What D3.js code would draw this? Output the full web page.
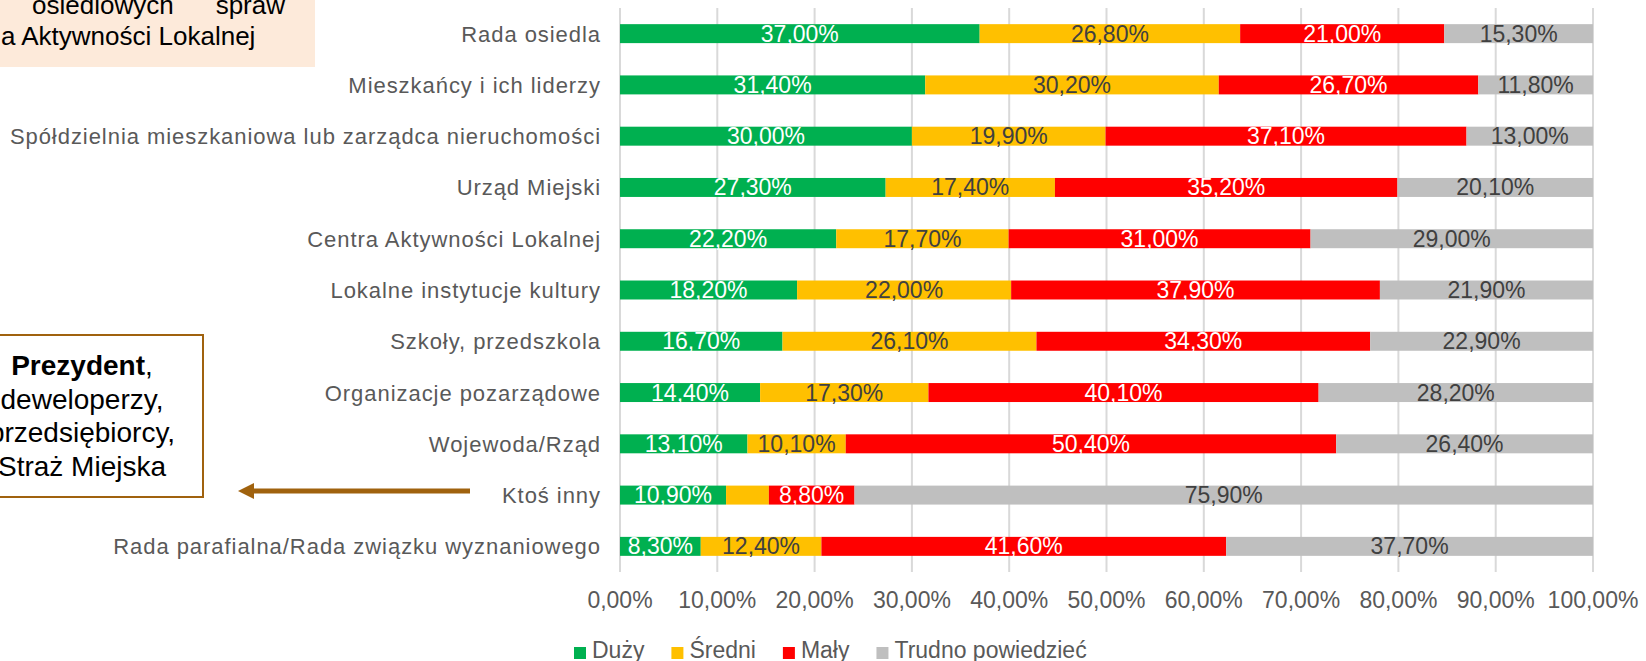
<!DOCTYPE html>
<html><head><meta charset="utf-8">
<script src="https://cdn.jsdelivr.net/npm/d3@7"></script>
<style>
html,body{margin:0;padding:0;background:#fff;}
svg{display:block;font-family:"Liberation Sans",Arial,sans-serif;}
</style></head>
<body>
<svg id="chart" width="1646" height="661"></svg>
<script>
const categories = ["Rada osiedla","Mieszkańcy i ich liderzy","Spółdzielnia mieszkaniowa lub zarządca nieruchomości","Urząd Miejski","Centra Aktywności Lokalnej","Lokalne instytucje kultury","Szkoły, przedszkola","Organizacje pozarządowe","Wojewoda/Rząd","Ktoś inny","Rada parafialna/Rada związku wyznaniowego"];
const duzy   = [37.0,31.4,30.0,27.3,22.2,18.2,16.7,14.4,13.1,10.9,8.3];
const sredni = [26.8,30.2,19.9,17.4,17.7,22.0,26.1,17.3,10.1,4.4,12.4];
const maly   = [21.0,26.7,37.1,35.2,31.0,37.9,34.3,40.1,50.4,8.8,41.6];
const trudno = [15.3,11.8,13.0,20.1,29.0,21.9,22.9,28.2,26.4,75.9,37.7];
const seriesNames = ["Duży","Średni","Mały","Trudno powiedzieć"];
const seriesColors = ["#00B050","#FFC000","#FF0000","#BFBFBF"];
const labelColors = ["#FFFFFF","#404040","#FFFFFF","#404040"];
const tickValues = [0,0.1,0.2,0.3,0.4,0.5,0.6,0.7,0.8,0.9,1.0];

const seriesVals = [duzy, sredni, maly, trudno];
const svg = d3.select("#chart");

const x = d3.scaleLinear().domain([0,1]).range([620,1593]);
const y = d3.scaleBand().domain(categories).range([8,572]).paddingInner(0.63).paddingOuter(0.315);

// top-left annotation box (partially visible)
svg.append("rect").attr("x",-20).attr("y",-40).attr("width",335).attr("height",107).attr("fill","#FDEADA");
svg.append("text").attr("x",32).attr("y",14).attr("font-size",26).attr("fill","#000").text("osiedlowych");
svg.append("text").attr("x",285).attr("y",14).attr("text-anchor","end").attr("font-size",26).attr("fill","#000").text("spraw");
svg.append("text").attr("x",1).attr("y",45).attr("font-size",26).attr("fill","#000").text("a Aktywności Lokalnej");

// gridlines
svg.append("g").selectAll("line").data(tickValues).join("line")
  .attr("x1",d=>x(d)).attr("x2",d=>x(d)).attr("y1",8).attr("y2",572)
  .attr("stroke","#D9D9D9").attr("stroke-width",2);

// x tick labels
const fmt = v => d3.format(".2f")(v).replace(".",",") + "%";
svg.append("g").selectAll("text").data(tickValues).join("text")
  .attr("x",d=>x(d)).attr("y",608).attr("text-anchor","middle")
  .attr("font-size",23).attr("fill","#595959").text(d=>fmt(d*100));

// stack
const rows = categories.map((c,i)=>{
  const vals = seriesVals.map(s=>s[i]);
  const tot = d3.sum(vals);
  let acc = 0;
  return vals.map((v,k)=>{ const seg={cat:c,k,v,x0:acc/tot,x1:(acc+v)/tot}; acc+=v; return seg; });
});
const segs = rows.flat();

svg.append("g").selectAll("rect").data(segs).join("rect")
  .attr("x",d=>x(d.x0)).attr("width",d=>x(d.x1)-x(d.x0))
  .attr("y",d=>y(d.cat)).attr("height",y.bandwidth())
  .attr("fill",d=>seriesColors[d.k]);

const lbl = svg.append("g").selectAll("text").data(segs).join("text")
  .attr("x",d=>(x(d.x0)+x(d.x1))/2).attr("y",d=>y(d.cat)+y.bandwidth()/2+8)
  .attr("text-anchor","middle").attr("font-size",23)
  .attr("fill",d=>labelColors[d.k]).text(d=>fmt(d.v));
lbl.each(function(d){ if(this.getComputedTextLength() > x(d.x1)-x(d.x0)) d3.select(this).remove(); });

// category labels
svg.append("g").selectAll("text").data(categories).join("text")
  .attr("x",601).attr("y",d=>y(d)+y.bandwidth()/2+8)
  .attr("text-anchor","end").attr("font-size",22).attr("letter-spacing","0.95px")
  .attr("fill","#595959").text(d=>d);

// left annotation box
svg.append("rect").attr("x",-40).attr("y",335).attr("width",243).attr("height",162)
  .attr("fill","#fff").attr("stroke","#A0620E").attr("stroke-width",2);
const t1 = svg.append("text").attr("x",82).attr("y",375).attr("text-anchor","middle").attr("font-size",28).attr("fill","#000");
t1.append("tspan").attr("font-weight","bold").text("Prezydent");
t1.append("tspan").text(",");
["deweloperzy,","przedsiębiorcy,","Straż Miejska"].forEach((s,i)=>{
  svg.append("text").attr("x",82).attr("y",408.5+i*33.5).attr("text-anchor","middle").attr("font-size",28).attr("fill","#000").text(s);
});

// arrow
svg.append("line").attr("x1",470).attr("y1",491).attr("x2",252).attr("y2",491).attr("stroke","#A0620E").attr("stroke-width",5);
svg.append("path").attr("d","M238,491 L254,483 L254,499 Z").attr("fill","#A0620E");

// legend
const lg = svg.append("g");
let lx = 574;
seriesNames.forEach((n,i)=>{
  lg.append("rect").attr("x",lx).attr("y",647).attr("width",12).attr("height",12).attr("fill",seriesColors[i]);
  const t = lg.append("text").attr("x",lx+18).attr("y",658).attr("font-size",23).attr("fill","#595959").text(n);
  lx += 18 + t.node().getComputedTextLength() + 27;
});
</script>
</body></html>
